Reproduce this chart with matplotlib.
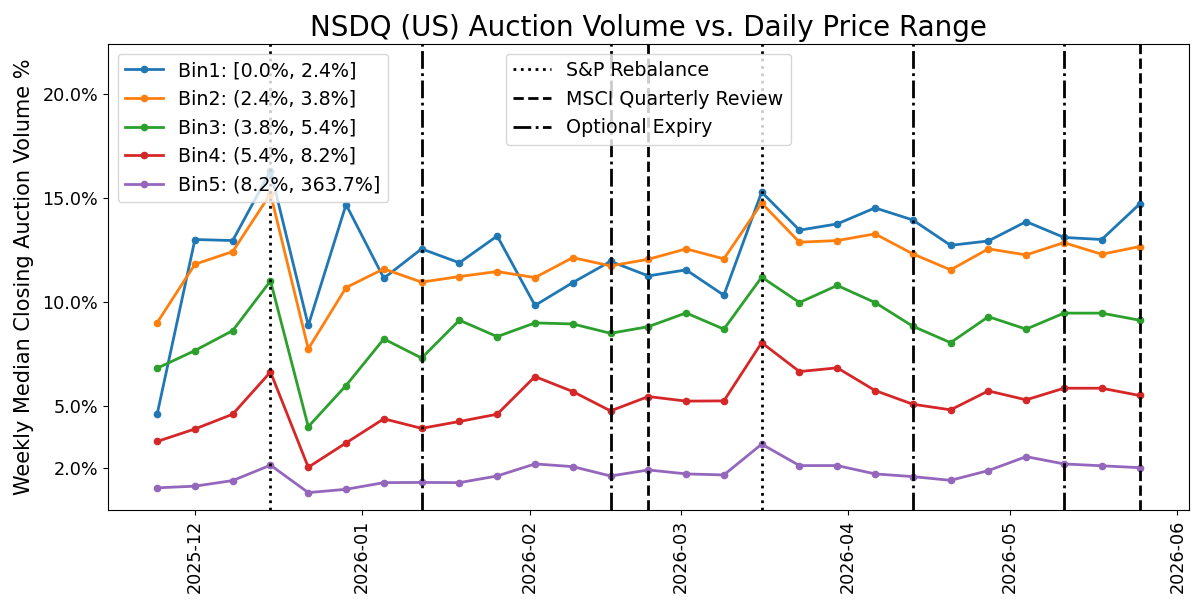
import matplotlib
matplotlib.use('Agg')
import matplotlib.pyplot as plt
import matplotlib.dates as mdates
import matplotlib.ticker as mticker
import pandas as pd

plt.rcParams['font.size'] = 12.7

weeks = pd.date_range('2025-11-24', '2026-05-25', freq='7D')

bin1 = [4.6, 13.0, 12.95, 16.3, 8.87, 14.68, 11.14, 12.55, 11.88, 13.17, 9.83, 10.93, 11.95,
        11.25, 11.54, 10.32, 15.28, 13.45, 13.75, 14.52, 13.94, 12.72, 12.93, 13.86, 13.1, 13.0, 14.7]
bin2 = [9.0, 11.81, 12.42, 15.2, 7.74, 10.69, 11.59, 10.95, 11.22, 11.46, 11.17, 12.13, 11.73,
        12.05, 12.55, 12.07, 14.75, 12.87, 12.95, 13.27, 12.31, 11.54, 12.55, 12.26, 12.85, 12.29, 12.66]
bin3 = [6.81, 7.66, 8.62, 11.01, 4.0, 5.98, 8.22, 7.3, 9.12, 8.33, 8.99, 8.94, 8.49,
        8.81, 9.47, 8.69, 11.19, 9.97, 10.79, 9.97, 8.83, 8.04, 9.29, 8.69, 9.46, 9.46, 9.12]
bin4 = [3.29, 3.89, 4.6, 6.63, 2.05, 3.22, 4.38, 3.92, 4.25, 4.6, 6.41, 5.69, 4.76,
        5.45, 5.23, 5.24, 8.04, 6.65, 6.83, 5.74, 5.08, 4.81, 5.72, 5.29, 5.85, 5.85, 5.5]
bin5 = [1.06, 1.14, 1.41, 2.15, 0.83, 0.99, 1.31, 1.32, 1.31, 1.63, 2.21, 2.08, 1.63,
        1.92, 1.73, 1.68, 3.16, 2.13, 2.13, 1.73, 1.6, 1.42, 1.89, 2.56, 2.21, 2.12, 2.03]

bin_labels = ['Bin1: [0.0%, 2.4%]', 'Bin2: (2.4%, 3.8%]', 'Bin3: (3.8%, 5.4%]',
              'Bin4: (5.4%, 8.2%]', 'Bin5: (8.2%, 363.7%]']

sp_rebalance = ['2025-12-15', '2026-03-16']
msci_review = ['2026-02-23', '2026-05-25']
opt_expiry = ['2026-01-12', '2026-02-16', '2026-04-13', '2026-05-11']

fig, ax = plt.subplots(figsize=(11.91, 6.07), dpi=100)
fig.subplots_adjust(left=0.0907, right=0.998, top=0.9275, bottom=0.16)

series = [bin1, bin2, bin3, bin4, bin5]
for vals, lab in zip(series, bin_labels):
    ax.plot(weeks, vals, marker='o', markersize=4.5, linewidth=2, label=lab)
leg1 = ax.legend(loc='upper left', fontsize=13.7)

h_sp = h_msci = h_opt = None
for d in sp_rebalance:
    h_sp = ax.axvline(pd.Timestamp(d), color='black', linestyle=':', linewidth=2)
for d in msci_review:
    h_msci = ax.axvline(pd.Timestamp(d), color='black', linestyle='--', linewidth=2)
for d in opt_expiry:
    h_opt = ax.axvline(pd.Timestamp(d), color='black', linestyle='-.', linewidth=2)
ax.legend([h_sp, h_msci, h_opt], ['S&P Rebalance', 'MSCI Quarterly Review', 'Optional Expiry'],
          loc='upper center', fontsize=13.7)
ax.add_artist(leg1)

ax.set_ylim(0, 22.4)
ax.set_yticks([2, 5, 10, 15, 20])
ax.yaxis.set_major_formatter(mticker.FuncFormatter(lambda v, p: f'{v:.1f}%'))
ax.xaxis.set_major_locator(mdates.MonthLocator())
ax.xaxis.set_major_formatter(mdates.DateFormatter('%Y-%m'))
plt.setp(ax.get_xticklabels(), rotation=90)

ax.set_ylabel('Weekly Median Closing Auction Volume %', fontsize=15, labelpad=6)
ax.set_title('NSDQ (US) Auction Volume vs. Daily Price Range', fontsize=20)

fig.savefig('out.png', dpi=100)
